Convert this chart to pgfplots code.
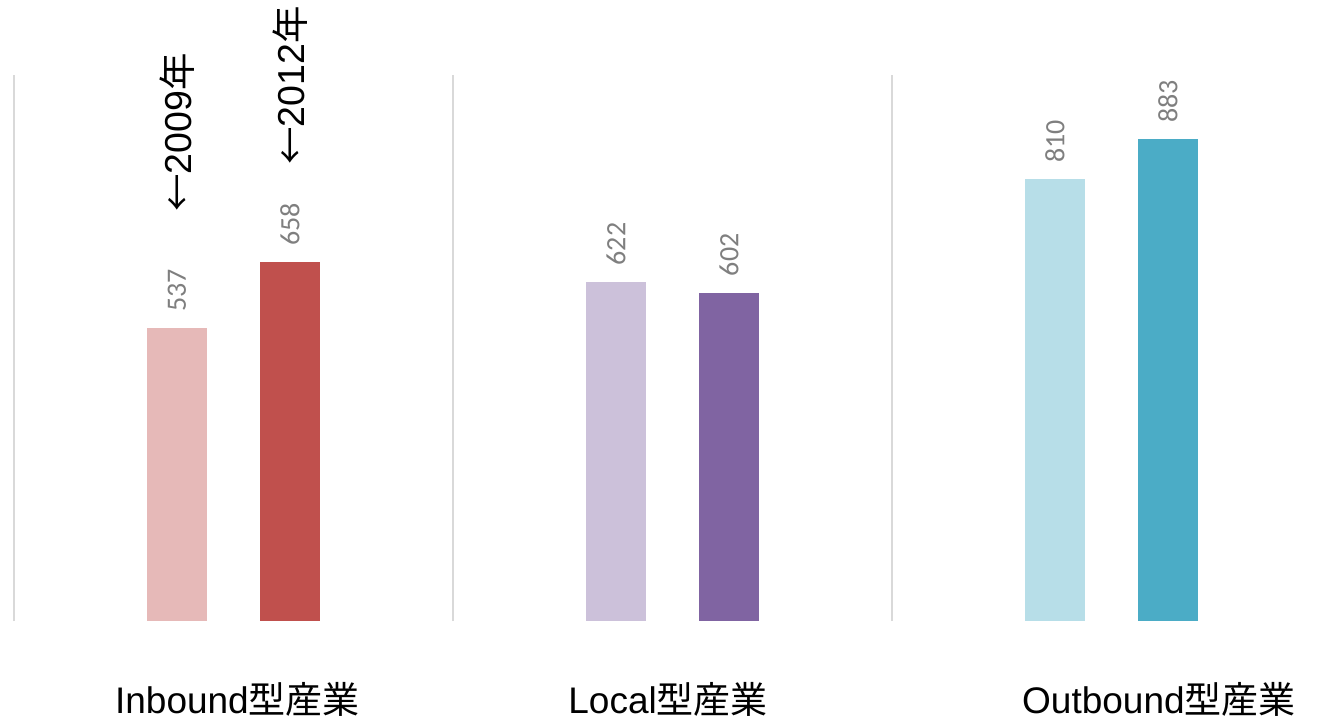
\documentclass[border=0pt]{standalone}
\usepackage{pgfplots}
\pgfplotsset{compat=1.18}
\usepackage{fontspec}
\setmainfont{Liberation Sans}
\newfontfamily\cjk{Noto Sans CJK JP}
\newfontfamily\calibri{Carlito}

\definecolor{inLight}{HTML}{E6B9B8}
\definecolor{inDark}{HTML}{C0504D}
\definecolor{loLight}{HTML}{CCC1DA}
\definecolor{loDark}{HTML}{8064A2}
\definecolor{outLight}{HTML}{B7DEE8}
\definecolor{outDark}{HTML}{4BACC6}
\definecolor{valgray}{HTML}{7F7F7F}
\definecolor{sepgray}{HTML}{D9D9D9}

\begin{document}
\begin{tikzpicture}
\begin{axis}[
  width=660.5pt, height=359.5pt, scale only axis,
  xmin=-0.5319, xmax=2.4772, ymin=-179.6, ymax=1138.2,
  hide axis, clip=false,
  ybar, bar width=0.1367,
  /pgf/number format/assume math mode=true,
  nodes near coords,
  every node near coord/.append style={rotate=90, anchor=west,
    inner xsep=8pt, inner ysep=0pt,
    font=\calibri\fontsize{14}{14}\selectfont, text=valgray},
]
% invisible frame that fixes the picture size
\path (rel axis cs:0,0) rectangle (rel axis cs:1,1);

% separators between the three groups
\draw[sepgray, line width=0.75pt] (axis cs:-0.5,0) -- (axis cs:-0.5,1000);
\draw[sepgray, line width=0.75pt] (axis cs:0.5,0) -- (axis cs:0.5,1000);
\draw[sepgray, line width=0.75pt] (axis cs:1.5,0) -- (axis cs:1.5,1000);

% 2009 (left bar) and 2012 (right bar) in each group
\addplot[fill=inLight, draw=none, bar shift=-0.1287] coordinates {(0,537)};
\addplot[fill=inDark, draw=none, bar shift=0.1287] coordinates {(0,658)};
\addplot[fill=loLight, draw=none, bar shift=-0.1287] coordinates {(1,622)};
\addplot[fill=loDark, draw=none, bar shift=0.1287] coordinates {(1,602)};
\addplot[fill=outLight, draw=none, bar shift=-0.1287] coordinates {(2,810)};
\addplot[fill=outDark, draw=none, bar shift=0.1287] coordinates {(2,883)};

% year markers
\node[rotate=90, anchor=west, inner sep=0pt, font=\fontsize{18.75}{20}\selectfont]
  at (axis cs:-0.1287,749.6) {{\cjk ←}2009{\cjk 年}};
\node[rotate=90, anchor=west, inner sep=0pt, font=\fontsize{18.75}{20}\selectfont]
  at (axis cs:0.1287,835.8) {{\cjk ←}2012{\cjk 年}};

% group names
\node[anchor=base, inner sep=0pt, font=\fontsize{18.5}{20}\selectfont]
  at (axis cs:0.009,-168.6) {Inbound{\cjk 型産業}};
\node[anchor=base, inner sep=0pt, font=\fontsize{18.5}{20}\selectfont]
  at (axis cs:0.990,-168.6) {Local{\cjk 型産業}};
\node[anchor=base, inner sep=0pt, font=\fontsize{18.5}{20}\selectfont]
  at (axis cs:2.108,-168.6) {Outbound{\cjk 型産業}};
\end{axis}
\end{tikzpicture}
\end{document}
